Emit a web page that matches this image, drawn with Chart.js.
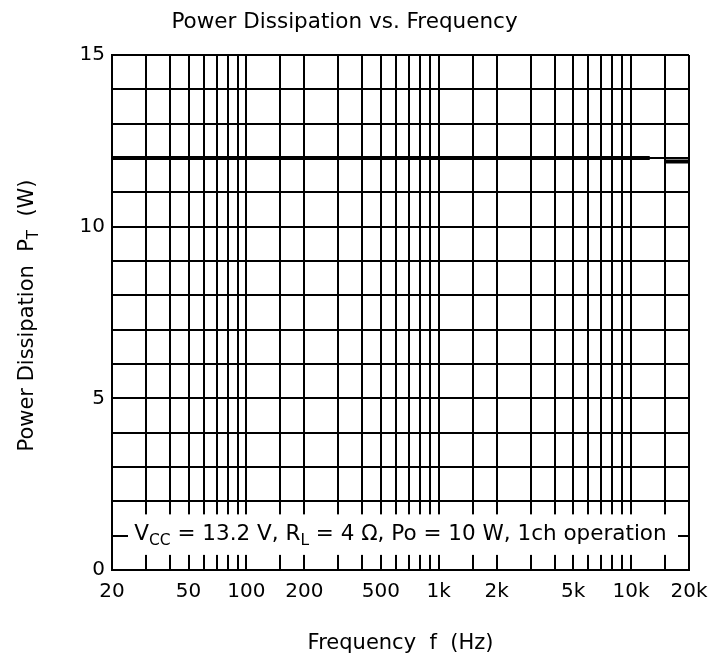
<!DOCTYPE html>
<html>
<head>
<meta charset="utf-8">
<script src="https://cdn.jsdelivr.net/npm/chart.js@4.4.0/dist/chart.umd.min.js"></script>
<style>
  html, body { margin: 0; padding: 0; background: #fff; }
  #wrap { width: 709px; height: 660px; }
</style>
</head>
<body>
<div id="wrap"><canvas id="myChart"></canvas></div>
<script>
// Power dissipation vs. frequency, 1ch operation
const freq = [20, 12500, 13500, 15000, 20000];
const power = [12, 12, null, 11.9, 11.9];

// vertical grid of the log axis (Hz) and the ones that get a label
const xGrid = [20, 30, 40, 50, 60, 70, 80, 90, 100, 150, 200, 300, 400, 500, 600, 700, 800, 900,
  1000, 1500, 2000, 3000, 4000, 5000, 6000, 7000, 8000, 9000, 10000, 15000, 20000];
const xLabelValues = [20, 50, 100, 200, 500, 1000, 2000, 5000, 10000, 20000];
const xLabelTexts = ['20', '50', '100', '200', '500', '1k', '2k', '5k', '10k', '20k'];
const yLabelValues = [0, 5, 10, 15];

const FONT = "'DejaVu Sans', sans-serif";

// text with subscripts, parts = [[text, isSub], ...]
function drawParts(ctx, parts, x, y, size) {
  let w = 0;
  for (const p of parts) {
    ctx.font = (p[1] ? size * 0.72 : size) + 'px ' + FONT;
    w += ctx.measureText(p[0]).width;
  }
  let cx = x - w / 2;
  for (const p of parts) {
    ctx.font = (p[1] ? size * 0.72 : size) + 'px ' + FONT;
    ctx.fillText(p[0], cx, p[1] ? y + size * 0.28 : y);
    cx += ctx.measureText(p[0]).width;
  }
}

const notePlugin = {
  id: 'note',
  beforeDatasetsDraw(chart) {
    const ctx = chart.ctx;
    const a = chart.chartArea;
    const ys = chart.scales.y;
    const top = ys.getPixelForValue(1.62);
    const bottom = ys.getPixelForValue(0.44);
    ctx.save();
    ctx.fillStyle = '#fff';
    ctx.fillRect(a.left + 16, top, a.right - a.left - 27, bottom - top);
    ctx.fillStyle = '#000';
    ctx.textBaseline = 'middle';
    ctx.textAlign = 'left';
    drawParts(ctx, [['V', false], ['CC', true], [' = 13.2 V, R', false], ['L', true],
      [' = 4 \u03A9, Po = 10 W, 1ch operation', false]], (a.left + a.right) / 2, ys.getPixelForValue(1) - 1, 21.5);
    ctx.restore();
  },
  afterDraw(chart) {
    // y axis title with subscript
    const ctx = chart.ctx;
    const a = chart.chartArea;
    ctx.save();
    ctx.translate(28, (a.top + a.bottom) / 2 + 3);
    ctx.rotate(-Math.PI / 2);
    ctx.fillStyle = '#000';
    ctx.textBaseline = 'middle';
    ctx.textAlign = 'left';
    drawParts(ctx, [['Power Dissipation  P', false], ['T', true], ['  (W)', false]], 0, 0, 21);
    ctx.restore();
  }
};

const myChart = new Chart('myChart', {
  type: 'line',
  data: {
    datasets: [{
      data: freq.map((f, i) => ({ x: f, y: power[i] })),
      borderColor: '#000',
      borderWidth: 4,
      pointRadius: 0,
      spanGaps: false,
      tension: 0
    }]
  },
  options: {
    responsive: true,
    maintainAspectRatio: false,
    animation: false,
    layout: { padding: { left: 0, right: 20, top: 0, bottom: 0 } },
    plugins: {
      legend: { display: false },
      tooltip: { enabled: false },
      title: {
        display: true,
        text: 'Power Dissipation vs. Frequency',
        color: '#000',
        font: { family: FONT, size: 21.5, weight: 'normal' },
        padding: { top: 10, bottom: 19.2 }
      }
    },
    scales: {
      x: {
        type: 'logarithmic',
        min: 20,
        max: 20000,
        afterBuildTicks: (s) => { s.ticks = xGrid.map(v => ({ value: v })); },
        afterFit: (s) => { s.height = 90; s.paddingLeft = 0; s.paddingRight = 0; },
        grid: { color: '#000', lineWidth: 2, drawTicks: false },
        border: { color: '#000', width: 2 },
        ticks: {
          autoSkip: false,
          maxRotation: 0,
          padding: 10,
          color: '#000',
          font: { family: FONT, size: 20 },
          callback: (v) => {
            const k = xLabelValues.indexOf(v);
            return k >= 0 ? xLabelTexts[k] : '';
          }
        },
        title: {
          display: true,
          text: 'Frequency  f  (Hz)',
          color: '#000',
          font: { family: FONT, size: 21 },
          padding: { top: 0, bottom: 4 }
        }
      },
      y: {
        min: 0,
        max: 15,
        afterFit: (s) => { s.width = 112; },
        grid: { color: '#000', lineWidth: 2, drawTicks: false },
        border: { color: '#000', width: 2 },
        ticks: {
          stepSize: 1,
          padding: 7,
          color: '#000',
          font: { family: FONT, size: 20 },
          callback: (v) => yLabelValues.includes(v) ? String(v) : ''
        }
      }
    }
  },
  plugins: [notePlugin]
});
</script>
</body>
</html>
